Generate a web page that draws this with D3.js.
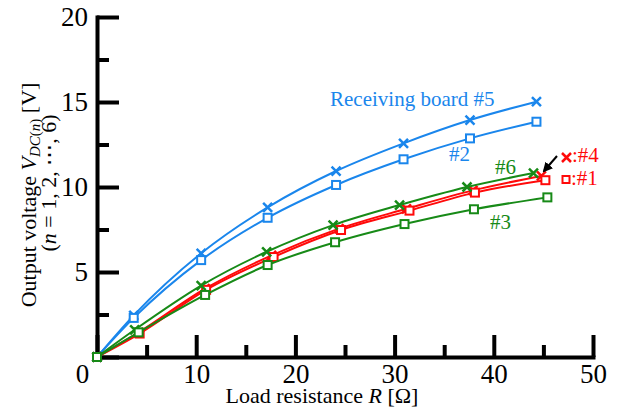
<!DOCTYPE html>
<html>
<head>
<meta charset="utf-8">
<script src="https://cdn.jsdelivr.net/npm/d3@7"></script>
<style>
  body { margin: 0; background: #fff; }
  svg text { font-family: "Liberation Serif", "Times New Roman", Times, "DejaVu Serif", serif !important; }
</style>
</head>
<body>
<svg id="chart" width="625" height="409"></svg>
<script>
// ticks
var xTicks = [0, 10, 20, 30, 40, 50];
var xMinor = [5, 15, 25, 35, 45];
var yTicks = [0, 5, 10, 15, 20];
var yMinor = [2.5, 7.5, 12.5, 17.5];

// receiving board #5 (blue, cross)
var r5 = [0, 3.7, 10.5, 17.2, 24.1, 30.9, 37.6, 44.3];
var v5 = [0, 2.45, 6.1, 8.8, 10.94, 12.57, 13.94, 15.02];
// #2 (blue, square)
var r2 = [0, 3.7, 10.5, 17.2, 24.1, 30.9, 37.6, 44.3];
var v2 = [0, 2.3, 5.7, 8.19, 10.12, 11.63, 12.86, 13.84];
// #4 (red, cross)
var r4 = [0, 4.2, 10.9, 17.6, 24.4, 31.2, 37.9, 44.8];
var v4 = [0, 1.45, 4.02, 5.98, 7.55, 8.72, 9.8, 10.65];
// #1 (red, square)
var r1 = [0, 4.3, 11.0, 17.8, 24.6, 31.5, 38.1, 45.2];
var v1 = [0, 1.38, 3.95, 5.88, 7.47, 8.61, 9.67, 10.4];
// #6 (green, cross)
var r6 = [0, 3.8, 10.5, 17.1, 23.8, 30.5, 37.3, 44.0];
var v6 = [0, 1.6, 4.2, 6.19, 7.76, 8.94, 10.0, 10.82];
// #3 (green, square)
var r3 = [0, 4.2, 10.9, 17.2, 24.0, 31.0, 38.0, 45.4];
var v3 = [0, 1.45, 3.65, 5.41, 6.75, 7.82, 8.69, 9.39];

var blue = "#1a86ec";
var red = "#ff0a0a";
var green = "#178a17";
var serif = "'Liberation Serif', 'Times New Roman', Times, 'DejaVu Serif', serif";

var series = [
  { r: r5, v: v5, color: blue, marker: "cross" },
  { r: r2, v: v2, color: blue, marker: "square" },
  { r: r4, v: v4, color: red, marker: "cross" },
  { r: r1, v: v1, color: red, marker: "square" },
  { r: r6, v: v6, color: green, marker: "cross" },
  { r: r3, v: v3, color: green, marker: "square" }
];

var svg = d3.select("#chart").attr("font-family", serif);

var x = d3.scaleLinear().domain([0, 50]).range([97, 593]);
var y = d3.scaleLinear().domain([0, 20]).range([357, 17]);

// minor ticks
svg.append("g")
  .attr("transform", "translate(0,357)")
  .call(d3.axisBottom(x).tickValues(xMinor).tickSize(-12).tickFormat(""))
  .call(g => g.select(".domain").remove());
svg.append("g")
  .attr("transform", "translate(97,0)")
  .call(d3.axisLeft(y).tickValues(yMinor).tickSize(-12).tickFormat(""))
  .call(g => g.select(".domain").remove());

// major axes
var xAxis = svg.append("g")
  .attr("transform", "translate(0,357)")
  .call(d3.axisBottom(x).tickValues(xTicks).tickSize(-22).tickSizeOuter(0).tickPadding(7));
xAxis.selectAll(".tick text")
  .attr("dx", d => d === 0 ? -15 : 0);

var yAxis = svg.append("g")
  .attr("transform", "translate(97,0)")
  .call(d3.axisLeft(y).tickValues(yTicks).tickSize(-22).tickSizeOuter(0).tickPadding(9)
    .tickFormat(d => d === 0 ? "" : d));

svg.selectAll("g").attr("font-family", serif);
svg.selectAll(".tick line").attr("stroke", "#000").attr("stroke-width", 4);
svg.selectAll(".domain").attr("stroke", "#000").attr("stroke-width", 4)
  .attr("stroke-linecap", "square");
svg.selectAll(".tick text")
  .attr("font-size", 27).attr("fill", "#000");

// lines and markers
var line = d3.line()
  .x(d => x(d[0]))
  .y(d => y(d[1]))
  .curve(d3.curveMonotoneX);

series.forEach(function (s) {
  var pts = s.r.map((r, i) => [r, s.v[i]]);
  svg.append("path")
    .attr("d", line(pts))
    .attr("fill", "none")
    .attr("stroke", s.color)
    .attr("stroke-width", 2);

  var m = svg.append("g");
  if (s.marker === "cross") {
    m.selectAll("path").data(pts).enter().append("path")
      .attr("d", d => {
        var cx = x(d[0]), cy = y(d[1]), h = 4.5;
        return "M" + (cx - h) + "," + (cy - h) + "L" + (cx + h) + "," + (cy + h) +
               "M" + (cx - h) + "," + (cy + h) + "L" + (cx + h) + "," + (cy - h);
      })
      .attr("stroke", s.color)
      .attr("stroke-width", 2.5)
      .attr("fill", "none");
  } else {
    m.selectAll("rect").data(pts).enter().append("rect")
      .attr("x", d => x(d[0]) - 4)
      .attr("y", d => y(d[1]) - 4)
      .attr("width", 8)
      .attr("height", 8)
      .attr("fill", "#fff")
      .attr("stroke", s.color)
      .attr("stroke-width", 2);
  }
});

// annotations
function label(txt, px, py, color) {
  svg.append("text")
    .attr("x", px).attr("y", py)
    .attr("font-size", 21)
    .attr("fill", color)
    .text(txt);
}
label("Receiving board #5", 330, 106, blue);
label("#2", 449, 161, blue);
label("#6", 495, 174, green);
label("#3", 490, 229, green);

// red legend
svg.append("path")
  .attr("d", "M562,153L571,162M562,162L571,153")
  .attr("stroke", red).attr("stroke-width", 2.5);
label(":#4", 572, 162, red);
svg.append("rect")
  .attr("x", 562.5).attr("y", 176).attr("width", 7).attr("height", 7)
  .attr("fill", "#fff").attr("stroke", red).attr("stroke-width", 2);
label(":#1", 571, 185, red);

// arrow
svg.append("defs").append("marker")
  .attr("id", "arr")
  .attr("viewBox", "0 0 10 10")
  .attr("refX", 8).attr("refY", 5)
  .attr("markerWidth", 5).attr("markerHeight", 5)
  .attr("orient", "auto")
  .append("path").attr("d", "M0,0L10,5L0,10z").attr("fill", "#000");
svg.append("line")
  .attr("x1", 557).attr("y1", 156).attr("x2", 544).attr("y2", 171)
  .attr("stroke", "#000").attr("stroke-width", 2)
  .attr("marker-end", "url(#arr)");

// axis titles
svg.append("text")
  .attr("x", 322).attr("y", 403)
  .attr("text-anchor", "middle")
  .attr("font-size", 22)
  .call(t => {
    t.append("tspan").text("Load resistance ");
    t.append("tspan").attr("font-style", "italic").text("R");
    t.append("tspan").text(" [\u03A9]");
  });

var yl = svg.append("g").attr("transform", "rotate(-90)");
yl.append("text")
  .attr("x", -195).attr("y", 36)
  .attr("text-anchor", "middle")
  .attr("font-size", 22)
  .call(t => {
    t.append("tspan").text("Output voltage ");
    t.append("tspan").attr("font-style", "italic").text("V");
    t.append("tspan").attr("font-size", 15).attr("dy", 4).attr("font-style", "italic").text("DC");
    t.append("tspan").attr("font-size", 15).text("(");
    t.append("tspan").attr("font-size", 15).attr("font-style", "italic").text("n");
    t.append("tspan").attr("font-size", 15).text(")");
    t.append("tspan").attr("dy", -4).text(" [V]");
  });
yl.append("text")
  .attr("x", -183).attr("y", 56)
  .attr("text-anchor", "middle")
  .attr("font-size", 22)
  .call(t => {
    t.append("tspan").text("(");
    t.append("tspan").attr("font-style", "italic").text("n");
    t.append("tspan").text(" = 1, 2, \u22EF, 6)");
  });
</script>
</body>
</html>
